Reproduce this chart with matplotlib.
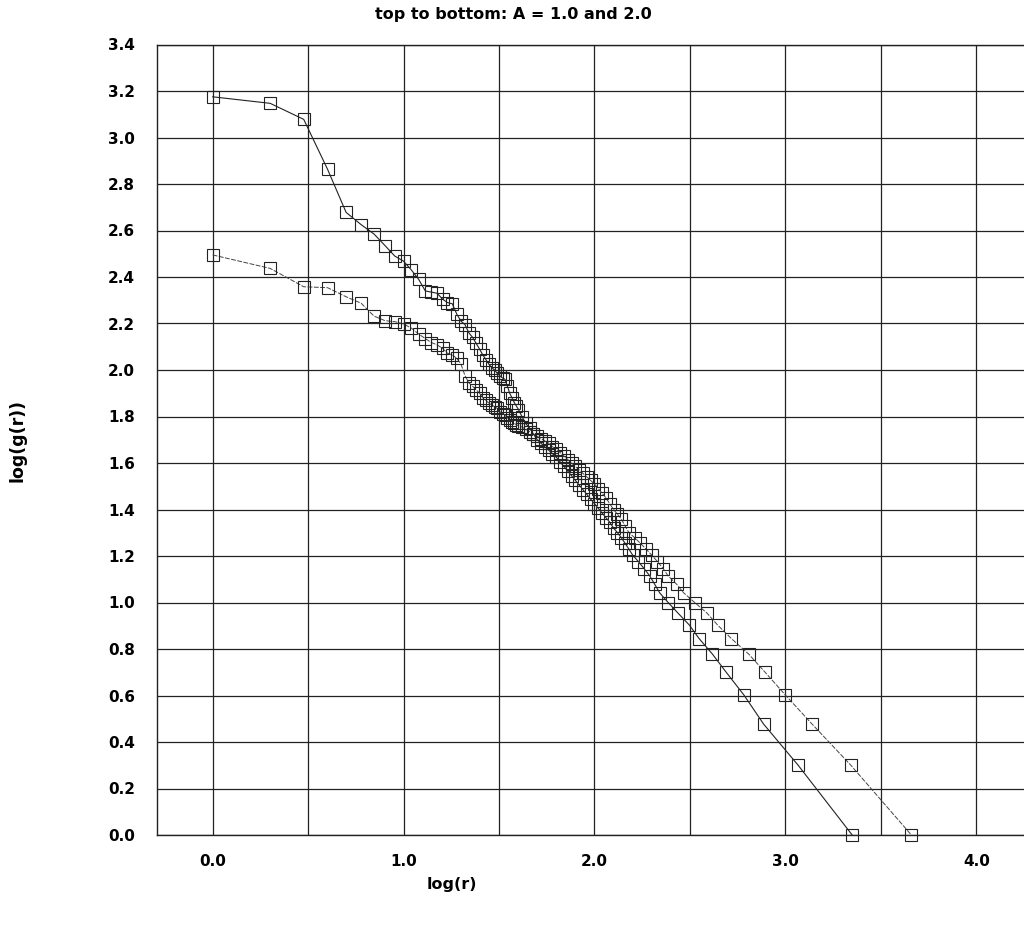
import matplotlib
matplotlib.use("Agg")
import matplotlib.pyplot as plt
from matplotlib.ticker import MultipleLocator, FixedLocator, FixedFormatter

# Series A = 1.0 (top at small r, steeper)
x_a = [0.000, 0.301, 0.477, 0.602, 0.699, 0.778, 0.845, 0.903, 0.954, 1.000,
       1.041, 1.079, 1.114, 1.146, 1.176, 1.204, 1.230, 1.255, 1.279, 1.301,
       1.322, 1.342, 1.362, 1.380, 1.398, 1.415, 1.431, 1.447, 1.462, 1.477,
       1.491, 1.505, 1.519, 1.531, 1.544, 1.556, 1.568, 1.580, 1.591, 1.602,
       1.62, 1.64, 1.66, 1.68, 1.70, 1.72, 1.74, 1.76, 1.78, 1.80,
       1.82, 1.84, 1.86, 1.88, 1.90, 1.92, 1.94, 1.96, 1.98, 2.00,
       2.02, 2.04, 2.06, 2.08, 2.10, 2.12, 2.14, 2.16, 2.18, 2.20,
       2.23, 2.26, 2.29, 2.315, 2.342, 2.386, 2.438, 2.497, 2.548, 2.618,
       2.691, 2.783, 2.886, 3.066, 3.350]
y_a = [3.175, 3.147, 3.078, 2.863, 2.678, 2.625, 2.585, 2.535, 2.490, 2.468,
       2.430, 2.390, 2.340, 2.335, 2.330, 2.305, 2.290, 2.285, 2.240, 2.210,
       2.195, 2.160, 2.140, 2.115, 2.090, 2.065, 2.045, 2.025, 2.010, 2.000,
       1.985, 1.975, 1.965, 1.960, 1.930, 1.900, 1.880, 1.860, 1.845, 1.830,
       1.800, 1.770, 1.750, 1.725, 1.700, 1.685, 1.670, 1.655, 1.640, 1.625,
       1.605, 1.585, 1.565, 1.545, 1.525, 1.505, 1.485, 1.465, 1.445, 1.425,
       1.405, 1.385, 1.365, 1.345, 1.320, 1.301, 1.279, 1.255, 1.230, 1.204,
       1.176, 1.146, 1.114, 1.079, 1.041, 1.000, 0.954, 0.903, 0.845, 0.778,
       0.699, 0.602, 0.477, 0.301, 0.000]

# Series A = 2.0 (bottom at small r, shallower)
x_b = [0.000, 0.301, 0.477, 0.602, 0.699, 0.778, 0.845, 0.903, 0.954, 1.000,
       1.041, 1.079, 1.114, 1.146, 1.176, 1.204, 1.230, 1.255, 1.279, 1.301,
       1.322, 1.342, 1.362, 1.380, 1.398, 1.415, 1.431, 1.447, 1.462, 1.477,
       1.491, 1.505, 1.519, 1.531, 1.544, 1.556, 1.568, 1.580, 1.591, 1.602,
       1.62, 1.64, 1.66, 1.68, 1.70, 1.72, 1.74, 1.76, 1.78, 1.80,
       1.82, 1.84, 1.86, 1.88, 1.90, 1.92, 1.94, 1.96, 1.98, 2.00,
       2.02, 2.04, 2.06, 2.08, 2.10, 2.12, 2.14, 2.16, 2.18, 2.21,
       2.24, 2.27, 2.30, 2.33, 2.36, 2.386, 2.43, 2.468, 2.525, 2.590,
       2.645, 2.717, 2.808, 2.895, 3.000, 3.140, 3.342, 3.660]
y_b = [2.495, 2.437, 2.358, 2.354, 2.315, 2.287, 2.232, 2.212, 2.208, 2.198,
       2.180, 2.155, 2.135, 2.118, 2.108, 2.093, 2.072, 2.065, 2.050, 2.025,
       1.975, 1.945, 1.930, 1.915, 1.900, 1.880, 1.870, 1.857, 1.850, 1.842,
       1.835, 1.820, 1.812, 1.805, 1.795, 1.785, 1.778, 1.770, 1.765, 1.760,
       1.755, 1.745, 1.735, 1.725, 1.715, 1.705, 1.695, 1.685, 1.670, 1.660,
       1.645, 1.630, 1.615, 1.600, 1.585, 1.570, 1.555, 1.540, 1.525, 1.510,
       1.490, 1.470, 1.450, 1.425, 1.400, 1.380, 1.360, 1.330, 1.301, 1.279,
       1.255, 1.230, 1.204, 1.176, 1.146, 1.114, 1.079, 1.041, 1.000, 0.954,
       0.903, 0.845, 0.778, 0.699, 0.602, 0.477, 0.301, 0.000]

x_ticks = [0.0, 1.0, 2.0, 3.0, 4.0]
x_tick_labels = ["0.0", "1.0", "2.0", "3.0", "4.0"]
y_ticks = [0.0, 0.2, 0.4, 0.6, 0.8, 1.0, 1.2, 1.4, 1.6, 1.8, 2.0, 2.2, 2.4, 2.6, 2.8, 3.0, 3.2, 3.4]
y_tick_labels = ["0.0", "0.2", "0.4", "0.6", "0.8", "1.0", "1.2", "1.4", "1.6", "1.8",
                 "2.0", "2.2", "2.4", "2.6", "2.8", "3.0", "3.2", "3.4"]

FONT = ["Liberation Sans Narrow", "DejaVu Sans Condensed", "DejaVu Sans"]
plt.rcParams['font.family'] = FONT

fig = plt.figure(figsize=(10.24, 9.26), dpi=100)
ax = fig.add_axes([157.3/1024, 1 - 835/926, 1 - 157.3/1024, (835 - 44.5)/926])

ax.set_xlim(-0.29, 4.25)
ax.set_ylim(0, 3.4)

ax.xaxis.set_major_locator(FixedLocator(x_ticks))
ax.xaxis.set_major_formatter(FixedFormatter(x_tick_labels))
ax.xaxis.set_minor_locator(MultipleLocator(0.5))
ax.yaxis.set_major_locator(FixedLocator(y_ticks))
ax.yaxis.set_major_formatter(FixedFormatter(y_tick_labels))

ax.grid(True, which='both', axis='x', color='#222222', linewidth=0.9)
ax.grid(True, which='major', axis='y', color='#222222', linewidth=0.9)
ax.set_axisbelow(True)
ax.tick_params(which='both', length=0)
ax.tick_params(axis='x', pad=14, labelsize=11)
ax.tick_params(axis='y', pad=16, labelsize=11)
for lab in ax.get_xticklabels() + ax.get_yticklabels():
    lab.set_fontweight('bold')

for s in ['left', 'top', 'bottom']:
    ax.spines[s].set_linewidth(1.0)
    ax.spines[s].set_color('#222222')
ax.spines['right'].set_visible(False)

ax.plot(x_a, y_a, color='#222222', linewidth=0.8, marker='s', markersize=8.5,
        markerfacecolor='none', markeredgecolor='#222222', markeredgewidth=0.8,
        clip_on=False, zorder=3)
ax.plot(x_b, y_b, color='#444444', linewidth=0.7, linestyle=(0, (5, 1.5)), marker='s',
        markersize=8.5, markerfacecolor='none', markeredgecolor='#222222',
        markeredgewidth=0.8, clip_on=False, zorder=3)

fig.text(513/1024, 1 - 14/926, "top to bottom: A = 1.0 and 2.0", ha='center', va='center',
         fontsize=11.5, fontweight='bold')
fig.text(452/1024, 1 - 885/926, "log(r)", ha='center', va='center',
         fontsize=11.5, fontweight='bold')
fig.text(18/1024, 1 - 440/926, "log(g(r))", ha='center', va='center', rotation=90,
         fontsize=12.5, fontweight='bold')

fig.savefig("out.png", dpi=100)
